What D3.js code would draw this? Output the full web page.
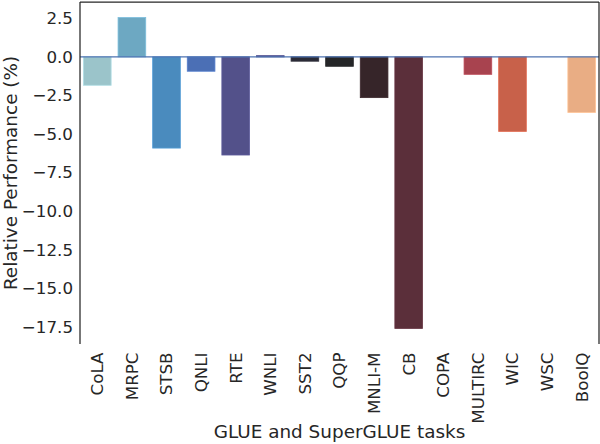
<!DOCTYPE html>
<html>
<head>
<meta charset="utf-8">
<script src="https://cdn.jsdelivr.net/npm/d3@7"></script>
<style>
  body { margin: 0; background: #fff; }
  text { font-family: "DejaVu Sans", sans-serif; fill: #262626; }
</style>
</head>
<body>
<div id="chart"></div>
<script>
// tasks and relative performance (%)
var tasks = ["CoLA", "MRPC", "STSB", "QNLI", "RTE", "WNLI", "SST2", "QQP",
             "MNLI-M", "CB", "COPA", "MULTIRC", "WIC", "WSC", "BoolQ"];
var relPerf = [-1.84, 2.55, -5.91, -0.93, -6.36, 0.08, -0.28, -0.61,
               -2.64, -17.6, 0, -1.13, -4.83, 0, -3.6];
var barColors = ["#9bc4ca", "#6da8c2", "#4a8bbe", "#4b6fb5", "#53518a", "#43447e",
                 "#2b2b36", "#252628", "#362529", "#5b2f3a", "#7f3243", "#a8434f",
                 "#c8614a", "#d98a66", "#e9ad84"];
var yTicks = [2.5, 0, -2.5, -5, -7.5, -10, -12.5, -15, -17.5];

var width = 600, height = 444;
var margin = {top: 2, right: 1, bottom: 100, left: 80};
var plotW = width - margin.left - margin.right;
var plotH = height - margin.top - margin.bottom;

var svg = d3.select("#chart").append("svg")
    .attr("width", width)
    .attr("height", height);

var g = svg.append("g")
    .attr("transform", "translate(" + margin.left + "," + margin.top + ")");

// matplotlib-style 5% padding around the data range
var lo = Math.min(0, d3.min(relPerf));
var hi = Math.max(0, d3.max(relPerf));
var pad = (hi - lo) * 0.05;

var x = d3.scaleBand().domain(tasks).range([0, plotW]).paddingInner(0.2).paddingOuter(0.1);
var y = d3.scaleLinear().domain([lo - pad, hi + pad]).range([plotH, 0]);

// bars
g.selectAll("rect.bar").data(tasks).enter()
    .append("rect")
    .attr("class", "bar")
    .attr("x", function(d) { return x(d); })
    .attr("width", x.bandwidth())
    .attr("y", function(d, i) { return y(Math.max(0, relPerf[i])); })
    .attr("height", function(d, i) { return Math.abs(y(relPerf[i]) - y(0)); })
    .attr("fill", function(d, i) { return barColors[i]; })
    .attr("stroke", function(d, i) { return d3.color(barColors[i]).brighter(0.35); })
    .attr("stroke-width", 0.8);

// zero reference line
g.append("line")
    .attr("x1", 0).attr("x2", plotW)
    .attr("y1", y(0)).attr("y2", y(0))
    .attr("stroke", "#4c72b0")
    .attr("stroke-width", 1.2);

// y axis labels (no tick marks)
var yAxis = d3.axisLeft(y).tickValues(yTicks).tickFormat(d3.format(".1f"))
    .tickSize(0).tickPadding(7);
var ya = g.append("g").call(yAxis);
ya.select(".domain").remove();
ya.selectAll("text").style("font-size", "16.7px").attr("fill", "#262626");

// x axis labels, rotated
var xAxis = d3.axisBottom(x).tickSize(0).tickPadding(0);
var xa = g.append("g").attr("transform", "translate(0," + plotH + ")").call(xAxis);
xa.select(".domain").remove();
xa.selectAll("text")
    .style("font-size", "16.7px")
    .attr("fill", "#262626")
    .attr("transform", "rotate(-90)")
    .attr("x", -8.5)
    .attr("y", 0)
    .attr("dy", "0.35em")
    .attr("text-anchor", "end");

// spines: left, top, right
var spine = "#262626";
g.append("line").attr("x1", 0).attr("x2", 0).attr("y1", 0).attr("y2", plotH)
    .attr("stroke", spine).attr("stroke-width", 1.25);
g.append("line").attr("x1", plotW).attr("x2", plotW).attr("y1", 0).attr("y2", plotH)
    .attr("stroke", spine).attr("stroke-width", 1.25);
g.append("line").attr("x1", 0).attr("x2", plotW).attr("y1", 0).attr("y2", 0)
    .attr("stroke", spine).attr("stroke-width", 1.25);

// axis titles
svg.append("text")
    .attr("x", margin.left + plotW / 2)
    .attr("y", 438)
    .attr("text-anchor", "middle")
    .style("font-size", "18.4px")
    .text("GLUE and SuperGLUE tasks");

svg.append("text")
    .attr("transform", "translate(17," + (margin.top + plotH / 2) + ") rotate(-90)")
    .attr("text-anchor", "middle")
    .style("font-size", "18.4px")
    .text("Relative Performance (%)");
</script>
</body>
</html>
